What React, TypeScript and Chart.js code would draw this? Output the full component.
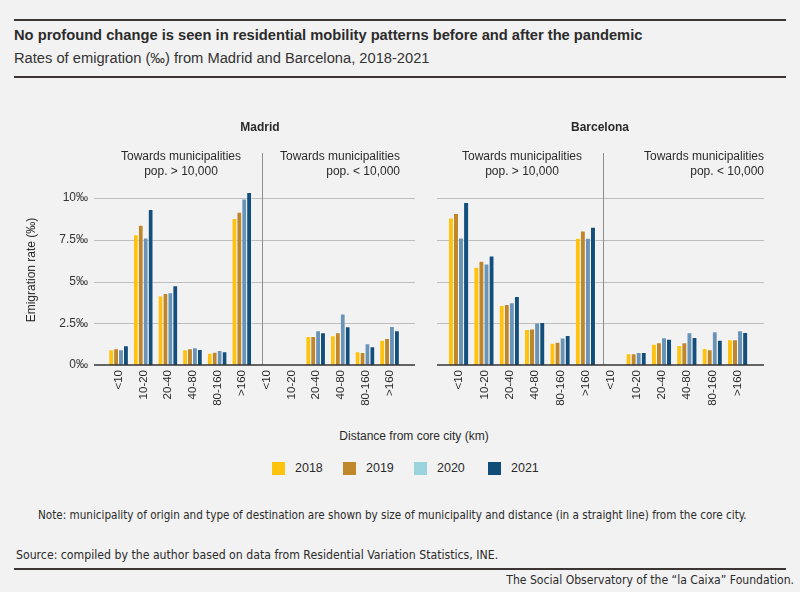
import React, { useEffect, useRef } from "react";
import { Chart, registerables } from "chart.js";
Chart.register(...registerables);

const distances = ["<10", "10-20", "20-40", "40-80", "80-160", ">160"];
const categories = [...distances, ...distances];
const years = ["2018", "2019", "2020", "2021"];
const barColors = ["#FFC20E", "#C0862A", "#6A93B8", "#134F7C"];
const legendColors = ["#FFC20E", "#C0862A", "#9AD3DE", "#0F4C78"];
const yTicks = [0, 2.5, 5, 7.5, 10];

// first 6 values: towards municipalities pop. > 10,000; last 6: pop. < 10,000
const madrid2018 = [0.94, 7.84, 4.16, 0.94, 0.74, 8.8, null, null, 1.74, 1.78, 0.82, 1.52];
const madrid2019 = [1.0, 8.4, 4.32, 1.0, 0.8, 9.18, null, null, 1.74, 1.96, 0.78, 1.62];
const madrid2020 = [0.94, 7.64, 4.36, 1.06, 0.9, 9.98, null, null, 2.08, 3.08, 1.3, 2.34];
const madrid2021 = [1.18, 9.34, 4.78, 0.96, 0.82, 10.36, null, null, 1.96, 2.32, 1.12, 2.08];

const barcelona2018 = [8.84, 5.88, 3.6, 2.16, 1.34, 7.62, null, 0.7, 1.28, 1.2, 1.02, 1.54];
const barcelona2019 = [9.1, 6.24, 3.66, 2.18, 1.4, 8.06, null, 0.7, 1.36, 1.36, 0.94, 1.54];
const barcelona2020 = [7.64, 6.08, 3.76, 2.54, 1.64, 7.62, null, 0.78, 1.66, 1.96, 2.02, 2.08];
const barcelona2021 = [9.76, 6.56, 4.14, 2.58, 1.8, 8.28, null, 0.78, 1.58, 1.68, 1.52, 1.98];

const madridSeries = [madrid2018, madrid2019, madrid2020, madrid2021];
const barcelonaSeries = [barcelona2018, barcelona2019, barcelona2020, barcelona2021];

const TEXT = "#2a2a2a";
const FONT = "'Liberation Sans', Arial, sans-serif";
const NARROW = "'Liberation Sans Narrow', 'DejaVu Sans Condensed', 'Liberation Sans', sans-serif";

type PanelProps = {
  series: (number | null)[][];
  left: number;
  width: number;
  yWidth: number;
  padRight: number;
  extL: number;
  extR: number;
  showY: boolean;
  divFrac: number;
};

function Panel({ series, left, width, yWidth, padRight, extL, extR, showY, divFrac }: PanelProps) {
  const ref = useRef<HTMLCanvasElement | null>(null);
  useEffect(() => {
    if (!ref.current) return;
    const decor = {
      id: "decor",
      beforeDatasetsDraw(chart: any) {
        const { ctx, chartArea } = chart;
        const ys = chart.scales.y;
        const xs = chart.scales.x;
        ctx.save();
        ctx.strokeStyle = "#BEBEBE";
        ctx.lineWidth = 1;
        yTicks.forEach((v) => {
          if (v === 0) return;
          const py = Math.round(ys.getPixelForValue(v)) + 0.5;
          ctx.beginPath();
          ctx.moveTo(chartArea.left - extL, py);
          ctx.lineTo(chartArea.right + extR, py);
          ctx.stroke();
        });
        const p5 = xs.getPixelForValue(5);
        const p6 = xs.getPixelForValue(6);
        const dx = Math.round(p5 + divFrac * (p6 - p5)) + 0.5;
        ctx.strokeStyle = "#8E8E8E";
        ctx.beginPath();
        ctx.moveTo(dx, chartArea.top);
        ctx.lineTo(dx, chartArea.bottom);
        ctx.stroke();
        ctx.restore();
      },
      afterDatasetsDraw(chart: any) {
        const { ctx, chartArea } = chart;
        const ys = chart.scales.y;
        const py = ys.getPixelForValue(0);
        ctx.save();
        ctx.strokeStyle = "#333333";
        ctx.lineWidth = 1.6;
        ctx.beginPath();
        ctx.moveTo(chartArea.left - extL, py);
        ctx.lineTo(chartArea.right + extR, py);
        ctx.stroke();
        ctx.restore();
      },
    };
    const chart = new Chart(ref.current, {
      type: "bar",
      data: {
        labels: categories,
        datasets: series.map((d, i) => ({
          label: years[i],
          data: d,
          backgroundColor: barColors[i],
          borderColor: "rgba(255,255,255,0.35)",
          borderWidth: { top: 1, left: 0, right: 1, bottom: 0 },
          borderSkipped: "bottom",
          categoryPercentage: 0.8,
          barPercentage: 1.0,
        })),
      },
      options: {
        responsive: false,
        animation: false,
        layout: { padding: { top: 53, right: padRight, left: 0, bottom: 0 } },
        plugins: { legend: { display: false }, tooltip: { enabled: false } },
        scales: {
          x: {
            grid: { display: false, drawTicks: false },
            border: { display: false },
            ticks: {
              minRotation: 90,
              maxRotation: 90,
              autoSkip: false,
              padding: 5,
              color: TEXT,
              font: { family: FONT, size: 11.5 },
            },
            afterFit: (s: any) => {
              s.height = 50;
            },
          },
          y: {
            min: 0,
            max: 12.7,
            grid: { display: false, drawTicks: false },
            border: { display: false },
            afterBuildTicks: (s: any) => {
              s.ticks = yTicks.map((v) => ({ value: v }));
            },
            ticks: {
              display: showY,
              padding: 18.7,
              color: "#333",
              font: { family: FONT, size: 12 },
              callback: (v: any) => `${v}‰`,
            },
            afterFit: (s: any) => {
              s.width = yWidth;
            },
          },
        },
      },
      plugins: [decor],
    });
    return () => chart.destroy();
  }, []);
  return (
    <canvas
      ref={ref}
      width={width}
      height={315}
      style={{ position: "absolute", left, top: 100, width, height: 315 }}
    />
  );
}

const abs = (s: React.CSSProperties): React.CSSProperties => ({ position: "absolute", ...s });

export default function App() {
  useEffect(() => {
    document.body.style.margin = "0";
    document.body.style.background = "#F2F2F2";
  }, []);
  const groupHead: React.CSSProperties = { fontFamily: FONT, fontSize: 12, lineHeight: "15px", color: TEXT };
  return (
    <div style={{ position: "relative", width: 800, height: 592, background: "#F2F2F2", overflow: "hidden" }}>
      <div style={abs({ left: 14, top: 19, width: 772, height: 2, background: "#3B3633" })} />
      <div style={abs({ left: 14, top: 26, fontFamily: FONT, fontWeight: 700, fontSize: 14.7, lineHeight: "18px", color: "#2b2b2b", whiteSpace: "nowrap" })}>
        No profound change is seen in residential mobility patterns before and after the pandemic
      </div>
      <div style={abs({ left: 14, top: 49, fontFamily: FONT, fontSize: 14.7, lineHeight: "18px", color: "#333", whiteSpace: "nowrap" })}>
        Rates of emigration (‰) from Madrid and Barcelona, 2018-2021
      </div>
      <div style={abs({ left: 14, top: 76, width: 772, height: 2, background: "#3B3633" })} />

      <Panel series={madridSeries} left={0} width={420} yWidth={106.7} padRight={17.7} extL={12.7} extR={12.7} showY={true} divFrac={0.8} />
      <Panel series={barcelonaSeries} left={432} width={340} yWidth={14.3} padRight={21.3} extL={9.3} extR={13.3} showY={false} divFrac={0.68} />

      <div style={abs({ left: 160, width: 200, top: 119, textAlign: "center", fontFamily: FONT, fontWeight: 700, fontSize: 12, lineHeight: "16px", color: TEXT })}>Madrid</div>
      <div style={abs({ left: 500, width: 200, top: 119, textAlign: "center", fontFamily: FONT, fontWeight: 700, fontSize: 12, lineHeight: "16px", color: TEXT })}>Barcelona</div>

      <div style={abs({ ...groupHead, left: 81, width: 200, top: 149, textAlign: "center" })}>Towards municipalities<br />pop. &gt; 10,000</div>
      <div style={abs({ ...groupHead, left: 200, width: 200, top: 149, textAlign: "right" })}>Towards municipalities<br />pop. &lt; 10,000</div>
      <div style={abs({ ...groupHead, left: 422, width: 200, top: 149, textAlign: "center" })}>Towards municipalities<br />pop. &gt; 10,000</div>
      <div style={abs({ ...groupHead, left: 564, width: 200, top: 149, textAlign: "right" })}>Towards municipalities<br />pop. &lt; 10,000</div>

      <div style={abs({ left: 31 - 100, top: 270 - 8, width: 200, textAlign: "center", transform: "rotate(-90deg)", fontFamily: FONT, fontSize: 12, lineHeight: "16px", color: TEXT })}>
        Emigration rate (‰)
      </div>
      <div style={abs({ left: 314, width: 200, top: 428, textAlign: "center", fontFamily: FONT, fontSize: 12, lineHeight: "16px", color: TEXT })}>
        Distance from core city (km)
      </div>

      {years.map((y, i) => {
        const xs = [272, 343, 414, 488];
        return (
          <React.Fragment key={y}>
            <div style={abs({ left: xs[i], top: 462, width: 13, height: 13, background: legendColors[i] })} />
            <div style={abs({ left: xs[i] + 23, top: 460, fontFamily: FONT, fontSize: 12.5, lineHeight: "16px", color: TEXT })}>{y}</div>
          </React.Fragment>
        );
      })}

      <div style={abs({ left: 38, top: 507, fontFamily: NARROW, fontSize: 11.6, lineHeight: "16px", color: TEXT, whiteSpace: "nowrap" })}>
        Note: municipality of origin and type of destination are shown by size of municipality and distance (in a straight line) from the core city.
      </div>
      <div style={abs({ left: 16, top: 547, fontFamily: NARROW, fontSize: 12.2, lineHeight: "16px", color: TEXT, whiteSpace: "nowrap" })}>
        Source: compiled by the author based on data from Residential Variation Statistics, INE.
      </div>
      <div style={abs({ left: 14, top: 568, width: 772, height: 2, background: "#3B3633" })} />
      <div style={abs({ right: 6, top: 572, fontFamily: NARROW, fontSize: 12.1, lineHeight: "16px", color: TEXT, whiteSpace: "nowrap" })}>
        The Social Observatory of the “la Caixa” Foundation.
      </div>
    </div>
  );
}
